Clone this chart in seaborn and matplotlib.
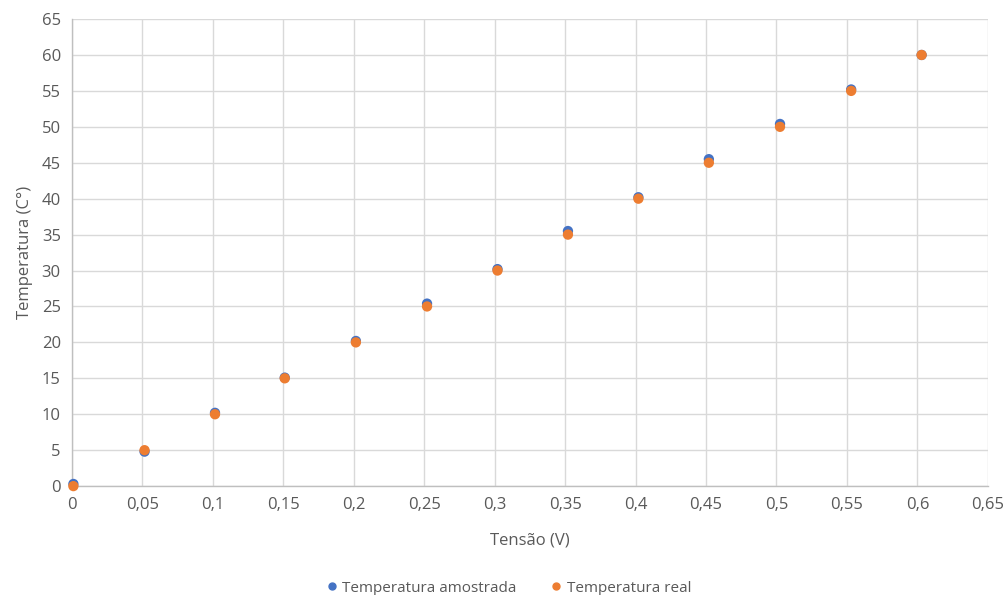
import pandas as pd
import matplotlib.pyplot as plt
import seaborn as sns
import matplotlib.ticker as mticker
import matplotlib.lines as mlines

# Data
tensao = [0.001, 0.0515, 0.1015, 0.151, 0.2015, 0.252, 0.302, 0.352, 0.402, 0.452, 0.5025, 0.553, 0.603]
temp_amostrada = [0.3, 4.8, 10.2, 15.1, 20.2, 25.4, 30.2, 35.5, 40.2, 45.5, 50.4, 55.2, 60.0]
temp_real = [0, 5, 10, 15, 20, 25, 30, 35, 40, 45, 50, 55, 60]
series_names = ["Temperatura amostrada", "Temperatura real"]
x_ticks = [0, 0.05, 0.1, 0.15, 0.2, 0.25, 0.3, 0.35, 0.4, 0.45, 0.5, 0.55, 0.6, 0.65]
y_ticks = list(range(0, 70, 5))

colors = ["#4472C4", "#ED7D31"]
text_color = "#595959"

df = pd.concat([
    pd.DataFrame({"Tensão": tensao, "Temperatura": temp_amostrada, "Série": series_names[0]}),
    pd.DataFrame({"Tensão": tensao, "Temperatura": temp_real, "Série": series_names[1]}),
])

sns.set_style("white")
plt.rcParams["font.family"] = ["Open Sans", "DejaVu Sans"]

f, ax = plt.subplots(figsize=(10.08, 5.95), dpi=100)
f.subplots_adjust(left=0.0714, right=0.980, top=0.968, bottom=0.183)

sns.scatterplot(data=df, x="Tensão", y="Temperatura", hue="Série", palette=colors,
                s=55, edgecolor="none", ax=ax, legend=False, zorder=3, clip_on=False)

ax.set_xlim(0, 0.65)
ax.set_ylim(0, 65)
ax.set_xticks(x_ticks)
ax.set_yticks(y_ticks)
fmt = mticker.FuncFormatter(lambda v, p: f"{v:g}".replace(".", ","))
ax.xaxis.set_major_formatter(fmt)
ax.grid(True, color="#d9d9d9", linewidth=1)
ax.set_axisbelow(True)
ax.tick_params(length=0, labelsize=12, colors=text_color, pad=8)
for s in ["top", "right"]:
    ax.spines[s].set_visible(False)
for s in ["left", "bottom"]:
    ax.spines[s].set_color("#bfbfbf")
    ax.spines[s].set_linewidth(1)

ax.set_xlabel("Tensão (V)", fontsize=12, color=text_color, labelpad=14)
ax.set_ylabel("Temperatura (C°)", fontsize=12, color=text_color, labelpad=6)

handles = [mlines.Line2D([], [], color=c, marker="o", linestyle="None", markersize=5, label=n)
           for n, c in zip(series_names, colors)]
f.legend(handles=handles, loc="lower center", bbox_to_anchor=(0.5, -0.024), ncol=2, frameon=False,
         fontsize=11, labelcolor=text_color, handletextpad=-0.3, columnspacing=1.6)

plt.savefig("out.png", dpi=100)
